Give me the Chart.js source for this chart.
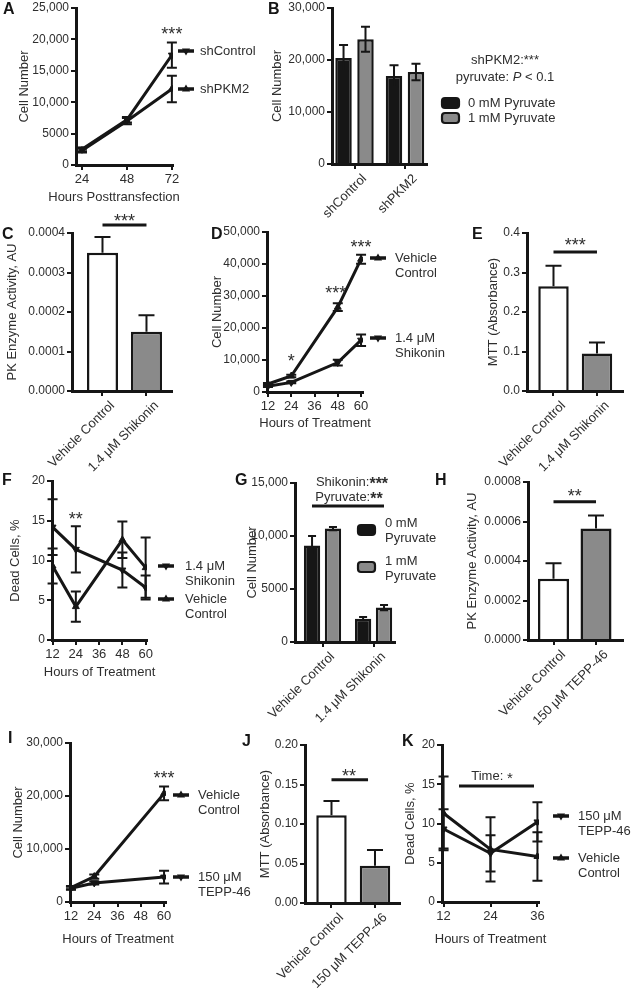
<!DOCTYPE html>
<html>
<head>
<meta charset="utf-8">
<script src="https://cdn.jsdelivr.net/npm/chart.js@4.4.1/dist/chart.umd.min.js"></script>
<style>
  html, body { margin: 0; background: #fff; }
  #fig { position: relative; width: 633px; height: 988px; overflow: hidden; }
  #fig canvas { position: absolute; left: 0; top: 0; }
</style>
</head>
<body>
<div id="fig"></div>
<script>
// ---- data ----
var hoursA = [24, 48, 72];
var shControl = [2500, 7200, 17500], shControlErr = [300, 450, 2000];
var shPKM2 = [2300, 7000, 12100], shPKM2Err = [300, 500, 2100];
var ticksA = [0, 5000, 10000, 15000, 20000, 25000];

var groupsB = ['shControl', 'shPKM2'];
var pyr0B = [20400, 16900], pyr0BErr = [2500, 2100];
var pyr1B = [24000, 17700], pyr1BErr = [2400, 1600];
var ticksB = [0, 10000, 20000, 30000];

var shikoninCats = ['Vehicle Control', '1.4 μM Shikonin'];
var pkC = [0.00035, 0.00015], pkCErr = [0.00004, 0.000042];
var ticksC = [0, 0.0001, 0.0002, 0.0003, 0.0004];

var hoursD = [12, 24, 48, 60];
var vehD = [2500, 5000, 26500, 41500], vehDErr = [300, 400, 1200, 1400];
var shikD = [1800, 3000, 9200, 16200], shikDErr = [200, 300, 900, 1800];
var ticksD = [0, 10000, 20000, 30000, 40000, 50000];
var hourTicks = [12, 24, 36, 48, 60];

var mttE = [0.265, 0.095], mttEErr = [0.052, 0.028];
var ticksE = [0, 0.1, 0.2, 0.3, 0.4];

var shikF = [14.2, 11.4, 8.8, 6.6], shikFErr = [3.5, 2.9, 2.2, 1.5];
var vehF = [9.3, 4.2, 12.6, 9.1], vehFErr = [2.2, 1.9, 2.3, 3.8];
var deadTicks = [0, 5, 10, 15, 20];

var pyr0G = [9100, 2200], pyr0GErr = [900, 150];
var pyr1G = [10700, 3250], pyr1GErr = [150, 250];
var ticksG = [0, 5000, 10000, 15000];

var teppCats = ['Vehicle Control', '150 μM TEPP-46'];
var pkH = [0.00031, 0.000565], pkHErr = [0.000078, 0.000065];
var ticksH = [0, 0.0002, 0.0004, 0.0006, 0.0008];

var hoursI = [12, 24, 60];
var vehI = [2700, 4800, 20500], vehIErr = [300, 400, 1300];
var teppI = [2600, 3600, 4700], teppIErr = [300, 300, 1200];
var ticksI = [0, 10000, 20000, 30000];

var mttJ = [0.111, 0.047], mttJErr = [0.018, 0.020];
var ticksJ = [0, 0.05, 0.10, 0.15, 0.20];

var hoursK = [12, 24, 36];
var teppK = [9.3, 6.2, 10.2], teppKErr = [2.5, 2.3, 2.5];
var vehK = [11.3, 6.7, 5.8], vehKErr = [4.7, 4.1, 3.1];

// ---- style ----
var FONT = "'Liberation Sans', Arial, sans-serif";
var INK = '#161616', TXT = '#2e2e2e', GREY = '#8a8a8a';
var W = 633, H = 988;

function fmtComma(v) { return v >= 10000 ? v.toLocaleString('en-US') : String(v); }
function fmtFix(n) { return function (v) { return v.toFixed(n); }; }
function catFmt(cats) { return function (v) { return cats[v]; }; }
function plain(v) { return String(v); }

function lineSet(label, xs, ys, errs, flip) {
  return {
    label: label, data: ys.map(function (y, i) { return {x: xs[i], y: y}; }),
    errors: errs, errBoth: true, capW: 10,
    borderColor: INK, borderWidth: 3, tension: 0,
    pointStyle: 'triangle', pointRadius: 4, pointRotation: flip ? 180 : 0,
    pointBackgroundColor: INK, pointBorderColor: INK, pointBorderWidth: 1
  };
}
function barSet(label, ys, errs, fill, both, capW) {
  return {
    label: label, data: ys.map(function (y, i) { return {x: i, y: y}; }),
    errors: errs, errBoth: both, capW: capW,
    backgroundColor: fill, borderColor: INK, borderWidth: 2.5
  };
}

// error bars drawn from each dataset's errors array
var errBars = {
  id: 'errBars',
  afterDatasetsDraw: function (chart) {
    var ctx = chart.ctx, ys = chart.scales.y;
    chart.data.datasets.forEach(function (ds, di) {
      if (!ds.errors) return;
      var meta = chart.getDatasetMeta(di);
      meta.data.forEach(function (el, i) {
        var v = ds.data[i].y, e = ds.errors[i];
        var top = ys.getPixelForValue(v + e);
        var bot = ys.getPixelForValue(ds.errBoth ? v - e : v);
        var c = ds.capW / 2;
        ctx.save();
        ctx.strokeStyle = INK; ctx.lineWidth = 2;
        ctx.beginPath();
        ctx.moveTo(el.x, top); ctx.lineTo(el.x, bot);
        ctx.moveTo(el.x - c, top); ctx.lineTo(el.x + c, top);
        if (ds.errBoth) { ctx.moveTo(el.x - c, bot); ctx.lineTo(el.x + c, bot); }
        ctx.stroke();
        ctx.restore();
      });
    });
  }
};

function tri(ctx, x, y, r, flip) {
  var s = flip ? -1 : 1;
  ctx.beginPath();
  ctx.moveTo(x, y - s * r);
  ctx.lineTo(x + r * 0.9, y + s * r * 0.55);
  ctx.lineTo(x - r * 0.9, y + s * r * 0.55);
  ctx.closePath();
  ctx.fill();
}

function drawSegs(ctx, segs, x, y) {
  var total = 0;
  segs.forEach(function (s) { ctx.font = s[1]; total += ctx.measureText(s[0]).width; });
  var cx = x - total / 2;
  ctx.textAlign = 'left';
  segs.forEach(function (s) {
    ctx.font = s[1];
    ctx.fillText(s[0], cx, y + (s[2] || 0));
    cx += ctx.measureText(s[0]).width;
  });
}

// letters, x titles, stars, significance lines, side legends
function annot(p) {
  return {
    id: 'annot',
    afterDraw: function (chart) {
      var ctx = chart.ctx, xs = chart.scales.x, ys = chart.scales.y, ca = chart.chartArea;
      function P(o, kx, ky) {
        return o.data ? [xs.getPixelForValue(o[kx]), ys.getPixelForValue(o[ky])] : [o[kx], o[ky]];
      }
      ctx.save();
      ctx.fillStyle = INK;
      ctx.font = 'bold 16px ' + FONT;
      ctx.textAlign = 'left'; ctx.textBaseline = 'top';
      ctx.fillText(p.letter[0], p.letter[1], p.letter[2]);

      ctx.fillStyle = TXT; ctx.textBaseline = 'middle';
      if (p.xTitle) {
        ctx.font = '13px ' + FONT; ctx.textAlign = 'center';
        ctx.fillText(p.xTitle, p.xTitleCX || (ca.left + ca.right) / 2, p.xTitleY);
      }

      ctx.strokeStyle = INK; ctx.lineWidth = 3;
      (p.lines || []).forEach(function (l) {
        var a = P(l, 'x1', 'y'), b = P(l, 'x2', 'y');
        ctx.beginPath(); ctx.moveTo(a[0], a[1]); ctx.lineTo(b[0], b[1]); ctx.stroke();
      });

      (p.texts || []).forEach(function (t) {
        var q = P(t, 'x', 'y');
        if (t.segs) { drawSegs(ctx, t.segs, q[0], q[1]); return; }
        ctx.font = (t.size || 18) + 'px ' + FONT;
        ctx.textAlign = 'center';
        ctx.fillText(t.t, q[0], q[1] + (t.star ? 4 : 0));
      });

      (p.legend || []).forEach(function (it) {
        var ds = chart.data.datasets[it.ds];
        if (p.type === 'line') {
          ctx.strokeStyle = INK; ctx.lineWidth = 3.5;
          ctx.beginPath(); ctx.moveTo(it.x, it.y); ctx.lineTo(it.x + 16, it.y); ctx.stroke();
          ctx.fillStyle = INK;
          tri(ctx, it.x + 8, it.y, 4.5, ds.pointRotation === 180);
        } else {
          ctx.fillStyle = ds.backgroundColor; ctx.strokeStyle = INK; ctx.lineWidth = 2.2;
          ctx.beginPath(); ctx.roundRect(it.x, it.y - 5, 17, 10, 3); ctx.fill(); ctx.stroke();
        }
        ctx.fillStyle = TXT; ctx.font = '13px ' + FONT; ctx.textAlign = 'left';
        var ty = it.ty !== undefined ? it.ty : it.y;
        ds.label.split('\n').forEach(function (s, k) { ctx.fillText(s, it.tx, ty + k * 15.5); });
      });
      ctx.restore();
    }
  };
}

function panel(p) {
  var cv = document.createElement('canvas');
  cv.width = W; cv.height = H;
  document.getElementById('fig').appendChild(cv);
  var lh = 13;
  var a = p.area;
  var padL = p.yTitleX - lh / 2 - 1;
  var grid = {display: true, drawOnChartArea: false, drawTicks: true, tickLength: 5, tickWidth: 2, lineWidth: 2, color: INK, offset: false};
  var border = {display: true, color: INK, width: 3};
  new Chart(cv, {
    type: p.type,
    data: {datasets: p.datasets},
    options: {
      responsive: false, animation: false, devicePixelRatio: 1, events: [],
      layout: {autoPadding: false, padding: {left: padL, top: a.T, right: W - a.R, bottom: 0}},
      datasets: {bar: {categoryPercentage: p.catPct || 1, barPercentage: p.barPct || 0.7}},
      plugins: {legend: {display: false}, tooltip: {enabled: false}},
      scales: {
        x: {
          type: 'linear', min: p.xMin, max: p.xMax, offset: false,
          grid: grid, border: border,
          ticks: {
            font: {family: FONT, size: 13, lineHeight: 1}, color: TXT, padding: 3,
            minRotation: p.rot || 0, maxRotation: p.rot || 0, autoSkip: false,
            labelOffset: p.rot ? 10 : 0, callback: p.xFmt
          },
          afterBuildTicks: function (s) { s.ticks = p.xTicks.map(function (v) { return {value: v}; }); },
          afterFit: function (s) { s.height = H - a.B; }
        },
        y: {
          type: 'linear', min: 0, max: p.yTicks[p.yTicks.length - 1],
          grid: grid, border: border,
          ticks: {font: {family: FONT, size: 12, lineHeight: 1}, color: TXT, padding: 2, callback: p.yFmt},
          afterBuildTicks: function (s) { s.ticks = p.yTicks.map(function (v) { return {value: v}; }); },
          afterFit: function (s) { s.width = a.L - padL; },
          title: {display: true, text: p.yTitle, color: TXT, font: {family: FONT, size: 13, lineHeight: 1}, padding: {top: 1, bottom: 1}}
        }
      }
    },
    plugins: [errBars, annot(p)]
  });
}

// ---- A ----
panel({
  type: 'line', letter: ['A', 3, 2],
  area: {L: 76, T: 6, R: 173, B: 165},
  xMin: 20.8, xMax: 72.6, xTicks: hoursA, xFmt: plain, yTicks: ticksA, yFmt: fmtComma,
  yTitle: 'Cell Number', yTitleX: 24, xTitle: 'Hours Posttransfection', xTitleY: 197, xTitleCX: 114,
  datasets: [lineSet('shControl', hoursA, shControl, shControlErr, true),
             lineSet('shPKM2', hoursA, shPKM2, shPKM2Err, false)],
  texts: [{t: '***', x: 72, y: 21300, data: true, star: true}],
  legend: [{ds: 0, x: 178, y: 51, tx: 200}, {ds: 1, x: 178, y: 89, tx: 200}]
});

// ---- B ----
panel({
  type: 'bar', letter: ['B', 268, 2], rot: 45,
  area: {L: 332, T: 6, R: 427, B: 164},
  xMin: -0.446, xMax: 1.436, xTicks: [0, 1], xFmt: catFmt(groupsB), yTicks: ticksB, yFmt: fmtComma,
  catPct: 0.87, barPct: 0.75,
  yTitle: 'Cell Number', yTitleX: 277,
  datasets: [barSet('0 mM Pyruvate', pyr0B, pyr0BErr, INK, true, 9),
             barSet('1 mM Pyruvate', pyr1B, pyr1BErr, GREY, true, 9)],
  texts: [{segs: [['shPKM2:', '13px ' + FONT], ['***', '13px ' + FONT, 0]], x: 505, y: 60},
          {segs: [['pyruvate: ', '13px ' + FONT], ['P', 'italic 13px ' + FONT], [' < 0.1', '13px ' + FONT]], x: 505, y: 77}],
  legend: [{ds: 0, x: 442, y: 103, tx: 468}, {ds: 1, x: 442, y: 118, tx: 468}]
});

// ---- C ----
panel({
  type: 'bar', letter: ['C', 2, 227], rot: 45,
  area: {L: 72, T: 233, R: 172, B: 391},
  xMin: -0.693, xMax: 1.58, xTicks: [0, 1], xFmt: catFmt(shikoninCats), yTicks: ticksC, yFmt: fmtFix(4),
  barPct: 0.705,
  yTitle: 'PK Enzyme Activity, AU', yTitleX: 12,
  datasets: [{
    label: 'PK', data: pkC.map(function (y, i) { return {x: i, y: y}; }), errors: pkCErr, errBoth: false, capW: 16,
    backgroundColor: ['#ffffff', GREY], borderColor: INK, borderWidth: 2.5
  }],
  lines: [{x1: 0, x2: 1, y: 0.00042, data: true}],
  texts: [{t: '***', x: 0.5, y: 0.000438, data: true, star: true}]
});

// ---- D ----
panel({
  type: 'line', letter: ['D', 211, 227],
  area: {L: 267, T: 232, R: 363, B: 392},
  xMin: 11.5, xMax: 61, xTicks: hourTicks, xFmt: plain, yTicks: ticksD, yFmt: fmtComma,
  yTitle: 'Cell Number', yTitleX: 217, xTitle: 'Hours of Treatment', xTitleY: 423,
  datasets: [lineSet('Vehicle\nControl', hoursD, vehD, vehDErr, false),
             lineSet('1.4 μM\nShikonin', hoursD, shikD, shikDErr, true)],
  texts: [{t: '*', x: 24, y: 10600, data: true, star: true},
          {t: '***', x: 47, y: 31900, data: true, star: true},
          {t: '***', x: 60, y: 46300, data: true, star: true}],
  legend: [{ds: 0, x: 370, y: 258, tx: 395}, {ds: 1, x: 370, y: 338, tx: 395}]
});

// ---- E ----
panel({
  type: 'bar', letter: ['E', 472, 227], rot: 45,
  area: {L: 527, T: 233, R: 623, B: 391},
  xMin: -0.609, xMax: 1.598, xTicks: [0, 1], xFmt: catFmt(shikoninCats), yTicks: ticksE, yFmt: fmtFix(1),
  barPct: 0.70,
  yTitle: 'MTT (Absorbance)', yTitleX: 493,
  datasets: [{
    label: 'MTT', data: mttE.map(function (y, i) { return {x: i, y: y}; }), errors: mttEErr, errBoth: false, capW: 16,
    backgroundColor: ['#ffffff', GREY], borderColor: INK, borderWidth: 2.5
  }],
  lines: [{x1: 0, x2: 1, y: 0.352, data: true}],
  texts: [{t: '***', x: 0.5, y: 0.377, data: true, star: true}]
});

// ---- F ----
panel({
  type: 'line', letter: ['F', 2, 473],
  area: {L: 52, T: 481, R: 147, B: 640},
  xMin: 11.7, xMax: 60.7, xTicks: hourTicks, xFmt: plain, yTicks: deadTicks, yFmt: plain,
  yTitle: 'Dead Cells, %', yTitleX: 15, xTitle: 'Hours of Treatment', xTitleY: 672,
  datasets: [lineSet('1.4 μM\nShikonin', hoursD, shikF, shikFErr, true),
             lineSet('Vehicle\nControl', hoursD, vehF, vehFErr, false)],
  texts: [{t: '**', x: 24, y: 15.6, data: true, star: true}],
  legend: [{ds: 0, x: 158, y: 566, tx: 185}, {ds: 1, x: 158, y: 599, tx: 185}]
});

// ---- G ----
panel({
  type: 'bar', letter: ['G', 235, 473], rot: 45,
  area: {L: 295, T: 483, R: 395, B: 642},
  xMin: -0.539, xMax: 1.42, xTicks: [0, 1], xFmt: catFmt(shikoninCats), yTicks: ticksG, yFmt: fmtComma,
  catPct: 0.82, barPct: 0.78,
  yTitle: 'Cell Number', yTitleX: 252,
  datasets: [barSet('0 mM\nPyruvate', pyr0G, pyr0GErr, INK, true, 8),
             barSet('1 mM\nPyruvate', pyr1G, pyr1GErr, GREY, true, 8)],
  lines: [{x1: 312, x2: 384, y: 506}],
  texts: [{segs: [['Shikonin:', '13px ' + FONT], ['***', 'bold 16px ' + FONT, 3]], x: 352, y: 482},
          {segs: [['Pyruvate:', '13px ' + FONT], ['**', 'bold 16px ' + FONT, 3]], x: 349, y: 497}],
  legend: [{ds: 0, x: 358, y: 530, ty: 523, tx: 385}, {ds: 1, x: 358, y: 567, ty: 561, tx: 385}]
});

// ---- H ----
panel({
  type: 'bar', letter: ['H', 435, 473], rot: 45,
  area: {L: 528, T: 482, R: 623, B: 640},
  xMin: -0.6, xMax: 1.635, xTicks: [0, 1], xFmt: catFmt(teppCats), yTicks: ticksH, yFmt: fmtFix(4),
  barPct: 0.73,
  yTitle: 'PK Enzyme Activity, AU', yTitleX: 472,
  datasets: [{
    label: 'PK', data: pkH.map(function (y, i) { return {x: i, y: y}; }), errors: pkHErr, errBoth: false, capW: 16,
    backgroundColor: ['#ffffff', GREY], borderColor: INK, borderWidth: 2.5
  }],
  lines: [{x1: 0, x2: 1, y: 0.0007, data: true}],
  texts: [{t: '**', x: 0.5, y: 0.000744, data: true, star: true}]
});

// ---- I ----
panel({
  type: 'line', letter: ['I', 8, 731],
  area: {L: 70, T: 743, R: 166, B: 902},
  xMin: 11.5, xMax: 61, xTicks: hourTicks, xFmt: plain, yTicks: ticksI, yFmt: fmtComma,
  yTitle: 'Cell Number', yTitleX: 18, xTitle: 'Hours of Treatment', xTitleY: 939,
  datasets: [lineSet('Vehicle\nControl', hoursI, vehI, vehIErr, false),
             lineSet('150 μM\nTEPP-46', hoursI, teppI, teppIErr, true)],
  texts: [{t: '***', x: 60, y: 24000, data: true, star: true}],
  legend: [{ds: 0, x: 173, y: 795, tx: 198}, {ds: 1, x: 173, y: 877, tx: 198}]
});

// ---- J ----
panel({
  type: 'bar', letter: ['J', 242, 734], rot: 45,
  area: {L: 305, T: 745, R: 400, B: 903},
  xMin: -0.609, xMax: 1.575, xTicks: [0, 1], xFmt: catFmt(teppCats), yTicks: ticksJ, yFmt: fmtFix(2),
  barPct: 0.70,
  yTitle: 'MTT (Absorbance)', yTitleX: 265,
  datasets: [{
    label: 'MTT', data: mttJ.map(function (y, i) { return {x: i, y: y}; }), errors: mttJErr, errBoth: false, capW: 16,
    backgroundColor: ['#ffffff', GREY], borderColor: INK, borderWidth: 2.5
  }],
  lines: [{x1: 0, x2: 0.84, y: 0.156, data: true}],
  texts: [{t: '**', x: 0.4, y: 0.165, data: true, star: true}]
});

// ---- K ----
panel({
  type: 'line', letter: ['K', 402, 734],
  area: {L: 442, T: 745, R: 539, B: 902},
  xMin: 11.6, xMax: 36.4, xTicks: hoursK, xFmt: plain, yTicks: deadTicks, yFmt: plain,
  yTitle: 'Dead Cells, %', yTitleX: 410, xTitle: 'Hours of Treatment', xTitleY: 939,
  datasets: [lineSet('150 μM\nTEPP-46', hoursK, teppK, teppKErr, true),
             lineSet('Vehicle\nControl', hoursK, vehK, vehKErr, false)],
  lines: [{x1: 459, x2: 534, y: 786}],
  texts: [{segs: [['Time: ', '13px ' + FONT], ['*', '15px ' + FONT, 3]], x: 492, y: 776}],
  legend: [{ds: 0, x: 553, y: 816, tx: 578}, {ds: 1, x: 553, y: 858, tx: 578}]
});
</script>
</body>
</html>
